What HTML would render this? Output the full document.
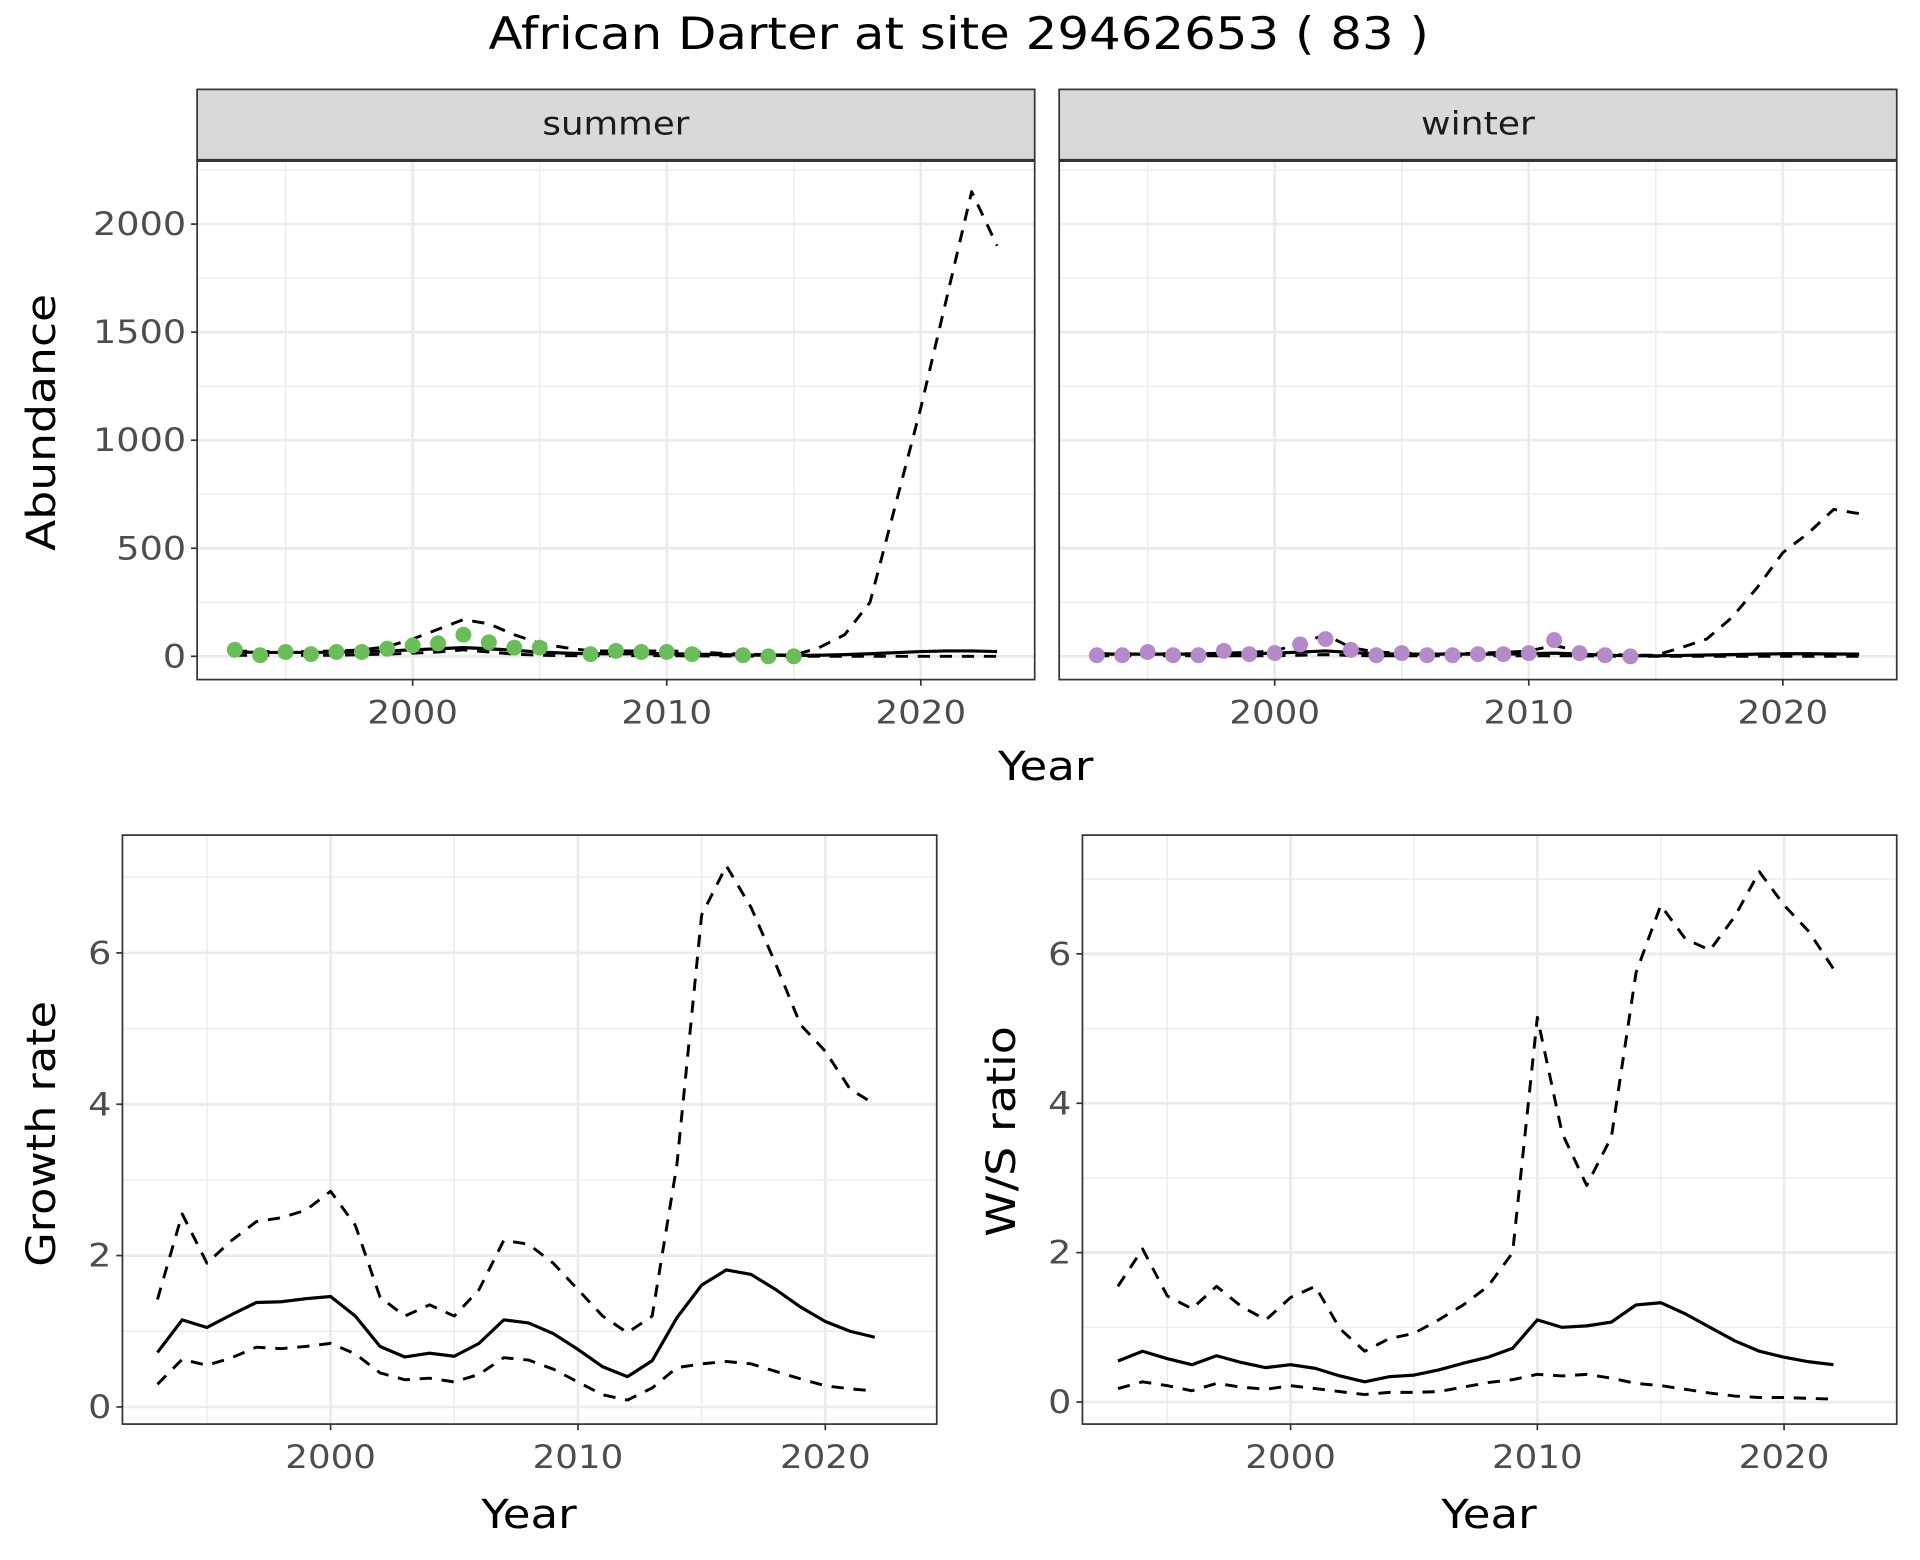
<!DOCTYPE html>
<html><head><meta charset="utf-8"><title>African Darter chart</title>
<style>
html,body{margin:0;padding:0;background:#fff;}
svg{display:block;font-family:"DejaVu Sans","Liberation Sans",sans-serif;}
</style></head>
<body>
<svg id="chart" width="1920" height="1560" viewBox="0 0 1568 1274" xmlns="http://www.w3.org/2000/svg">
<text x="783" y="40" text-anchor="middle" font-size="36" textLength="768" lengthAdjust="spacingAndGlyphs" fill="#000">African Darter at site 29462653 ( 83 )</text>
</svg>
<script>
const years = [1993,1994,1995,1996,1997,1998,1999,2000,2001,2002,2003,2004,2005,2006,2007,2008,2009,2010,2011,2012,2013,2014,2015,2016,2017,2018,2019,2020,2021,2022,2023];
const sumPtYears = [1993,1994,1995,1996,1997,1998,1999,2000,2001,2002,2003,2004,2005,2007,2008,2009,2010,2011,2013,2014,2015];
const sumPtVals = [30,5,20,10,20,20,35,50,60,100,65,40,40,10,25,20,20,10,5,0,0];
const sumMid = [20,18,18,18,20,22,25,30,35,40,35,28,20,15,12,12,12,12,10,8,6,5,4,5,8,12,17,22,25,25,22];
const sumUp = [25,22,22,22,25,30,45,80,125,170,150,100,60,40,25,25,25,25,22,15,10,8,5,40,100,250,700,1150,1650,2150,1900];
const sumLo = [5,5,5,5,5,8,10,15,20,30,20,10,5,3,3,3,3,3,2,1,1,0,0,0,0,0,0,0,0,0,0];
const winPtYears = [1993,1994,1995,1996,1997,1998,1999,2000,2001,2002,2003,2004,2005,2006,2007,2008,2009,2010,2011,2012,2013,2014];
const winPtVals = [5,5,20,5,5,25,10,15,55,80,30,5,15,5,5,10,10,15,75,15,5,0];
const winMid = [10,10,10,10,10,12,12,15,20,25,18,12,10,10,10,10,10,12,15,10,5,3,2,4,6,8,10,12,12,11,10];
const winUp = [12,12,12,12,12,15,18,25,60,100,40,20,15,12,12,15,18,25,50,25,10,5,5,40,80,180,320,480,570,680,660];
const winLo = [2,2,2,2,2,2,2,3,5,8,4,2,2,2,2,2,2,2,3,2,1,0,0,0,0,0,0,0,0,0,0];
const yearsB = [1993,1994,1995,1996,1997,1998,1999,2000,2001,2002,2003,2004,2005,2006,2007,2008,2009,2010,2011,2012,2013,2014,2015,2016,2017,2018,2019,2020,2021,2022];
const grMid = [0.72,1.15,1.05,1.22,1.38,1.39,1.43,1.46,1.2,0.8,0.66,0.71,0.67,0.84,1.15,1.11,0.97,0.76,0.53,0.40,0.61,1.18,1.61,1.81,1.75,1.55,1.32,1.13,1.0,0.92];
const grUp = [1.42,2.55,1.9,2.2,2.45,2.5,2.6,2.85,2.4,1.45,1.2,1.35,1.2,1.55,2.2,2.15,1.9,1.55,1.2,0.98,1.2,3.2,6.5,7.15,6.6,5.85,5.05,4.7,4.2,4.0];
const grLo = [0.3,0.63,0.55,0.65,0.79,0.77,0.8,0.84,0.7,0.45,0.36,0.38,0.33,0.43,0.65,0.62,0.5,0.33,0.16,0.09,0.25,0.52,0.57,0.6,0.57,0.47,0.37,0.28,0.24,0.21];
const wsMid = [0.55,0.68,0.58,0.5,0.62,0.53,0.46,0.5,0.45,0.35,0.27,0.34,0.36,0.43,0.52,0.6,0.72,1.1,1.0,1.02,1.07,1.3,1.33,1.18,1.0,0.82,0.68,0.6,0.54,0.5];
const wsUp = [1.55,2.05,1.42,1.25,1.55,1.28,1.1,1.4,1.55,0.98,0.68,0.85,0.92,1.1,1.3,1.55,2.0,5.15,3.6,2.9,3.55,5.75,6.65,6.2,6.05,6.5,7.1,6.65,6.3,5.8];
const wsLo = [0.18,0.27,0.22,0.15,0.25,0.2,0.17,0.22,0.18,0.14,0.1,0.13,0.13,0.14,0.2,0.26,0.3,0.37,0.35,0.37,0.32,0.25,0.22,0.17,0.12,0.08,0.06,0.06,0.05,0.04];
const xTicks = [2000,2010,2020];
const abTicks = [0,500,1000,1500,2000];
const abMinor = [250,750,1250,1750,2250];
const rateTicks = [0,2,4,6];
const rateMinor = [1,3,5,7];

const NS = "http://www.w3.org/2000/svg";
const svg = document.getElementById('chart');
function mk(tag, attrs, parent){
  const e = document.createElementNS(NS, tag);
  for (const k in attrs) e.setAttribute(k, attrs[k]);
  (parent||svg).appendChild(e);
  return e;
}
function panel(o){
  const g = mk('g',{});
  
  
  const sx = v => o.x0 + (v - 2000) * o.xscale;
  const sy = v => o.y0 - v * o.yscale;
  mk('rect',{x:o.l,y:o.t,width:o.r-o.l,height:o.b-o.t,fill:'#fff'},g);
  for (const v of o.minorY){ const y=sy(v); if(y>o.t&&y<o.b) mk('line',{x1:o.l,x2:o.r,y1:y,y2:y,stroke:'#EBEBEB','stroke-width':1.1},g); }
  for (const v of [1995,2005,2015]) mk('line',{x1:sx(v),x2:sx(v),y1:o.t,y2:o.b,stroke:'#EBEBEB','stroke-width':1.1},g);
  for (const v of o.ticks){ const y=sy(v); mk('line',{x1:o.l,x2:o.r,y1:y,y2:y,stroke:'#EBEBEB','stroke-width':2.2},g); }
  for (const v of xTicks) mk('line',{x1:sx(v),x2:sx(v),y1:o.t,y2:o.b,stroke:'#EBEBEB','stroke-width':2.2},g);
  const path = (xs, vs, dash, w, nm) => {
    const d = vs.map((v,i)=>(i?'L':'M')+sx(xs[i]).toFixed(1)+','+sy(v).toFixed(1)).join('');
    const p = mk('path',{d:d,fill:'none',stroke:'#000','stroke-width':w,'stroke-dasharray':dash?'10,8':'none','stroke-linejoin':'round'},g);
    
    
  };
  path(o.yrs, o.lo, true, 2.4, 'lower-bound-line');
  path(o.yrs, o.up, true, 2.4, 'upper-bound-line');
  path(o.yrs, o.mid, false, 2.6, 'estimate-line');
  if (o.ptx){
    o.ptx.forEach((yr,i)=>{
      const c = mk('circle',{cx:sx(yr),cy:sy(o.pty[i]),r:6.5,fill:o.col},g);
      
      
    });
  }
  mk('rect',{x:o.l,y:o.t,width:o.r-o.l,height:o.b-o.t,fill:'none',stroke:'#333','stroke-width':1.4},g);
  if (o.strip){
    mk('rect',{x:o.l,y:o.t-58,width:o.r-o.l,height:58,fill:'#D9D9D9',stroke:'#333','stroke-width':1.4},g);
    mk('line',{x1:o.l,x2:o.r,y1:o.t,y2:o.t,stroke:'#333','stroke-width':2.5},g);
    const st = mk('text',{x:(o.l+o.r)/2,y:o.t-21,'text-anchor':'middle','font-size':26,textLength:o.stripW,lengthAdjust:'spacingAndGlyphs',fill:'#1A1A1A'},g);
    st.textContent = o.strip;
    
    
  }
  if (o.yLabels){
    for (const v of o.ticks){ const y=sy(v);
      mk('line',{x1:o.l-5,x2:o.l,y1:y,y2:y,stroke:'#333','stroke-width':1.4},g);
      const s = String(v);
      const t = mk('text',{x:o.l-9,y:y+9,'text-anchor':'end','font-size':26,textLength:s.length*19,lengthAdjust:'spacingAndGlyphs',fill:'#4D4D4D'},g);
      t.textContent = s;
      
      
    }
  }
  for (const v of xTicks){ const x=sx(v);
    mk('line',{x1:x,x2:x,y1:o.b,y2:o.b+5,stroke:'#333','stroke-width':1.4},g);
    const t = mk('text',{x:x,y:o.b+36,'text-anchor':'middle','font-size':26,textLength:74,lengthAdjust:'spacingAndGlyphs',fill:'#4D4D4D'},g);
    t.textContent = v;
    
    
  }
  if (o.ytitle){
    const t = mk('text',{x:0,y:0,'text-anchor':'middle','font-size':33,textLength:o.ytw,lengthAdjust:'spacingAndGlyphs',fill:'#000',transform:`translate(${o.ytx},${o.yty}) rotate(-90)`},g);
    t.textContent = o.ytitle;
    
    
  }
  if (o.xtitle){
    const t = mk('text',{x:o.xtx,y:o.xty,'text-anchor':'middle','font-size':33,textLength:78,lengthAdjust:'spacingAndGlyphs',fill:'#000'},g);
    t.textContent = 'Year';
    
    
  }
}
panel({name:'summer-panel',l:161,r:845,t:131,b:555,x0:337,xscale:20.75,y0:536,yscale:0.1765,ticks:abTicks,minorY:abMinor,
  yrs:years,lo:sumLo,up:sumUp,mid:sumMid,ptx:sumPtYears,pty:sumPtVals,col:'#6ABD5A',strip:'summer',stripW:120,yLabels:true,ytitle:'Abundance',ytw:210,ytx:45,yty:345,xtitle:true,xtx:854,xty:637});
panel({name:'winter-panel',l:865,r:1549,t:131,b:555,x0:1041,xscale:20.75,y0:536,yscale:0.1765,ticks:abTicks,minorY:abMinor,
  yrs:years,lo:winLo,up:winUp,mid:winMid,ptx:winPtYears,pty:winPtVals,col:'#B48AC8',strip:'winter',stripW:93,yLabels:false});
panel({name:'growth-rate-panel',l:100,r:765,t:682,b:1163,x0:270,xscale:20.2,y0:1149,yscale:61.8,ticks:rateTicks,minorY:rateMinor,
  yrs:yearsB,lo:grLo,up:grUp,mid:grMid,yLabels:true,ytitle:'Growth rate',ytw:217,ytx:45,yty:926,xtitle:true,xtx:432,xty:1248});
panel({name:'ws-ratio-panel',l:884,r:1549,t:682,b:1163,x0:1054,xscale:20.15,y0:1145,yscale:61,ticks:rateTicks,minorY:rateMinor,
  yrs:yearsB,lo:wsLo,up:wsUp,mid:wsMid,yLabels:true,ytitle:'W/S ratio',ytw:172,ytx:829,yty:924,xtitle:true,xtx:1216,xty:1248});
</script>
</body></html>
